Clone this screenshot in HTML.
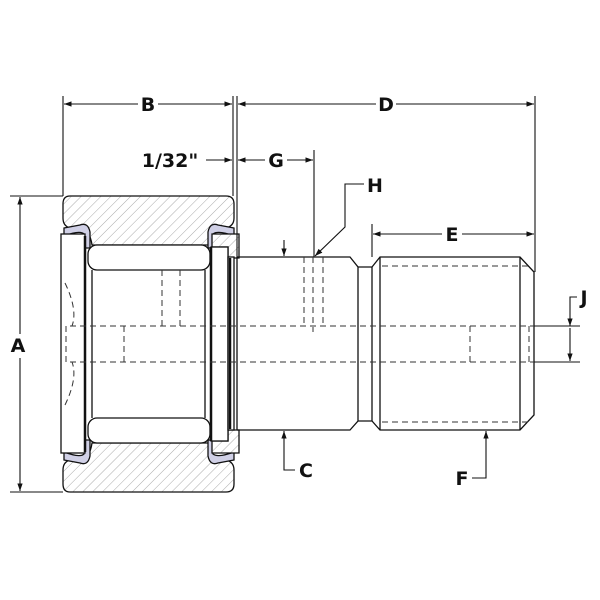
<!DOCTYPE html>
<html><head><meta charset="utf-8"><style>
html,body{margin:0;padding:0;background:#fff}
svg{display:block}
text{font-family:"DejaVu Sans","Liberation Sans",sans-serif;font-weight:bold;fill:#111}
</style></head><body>
<svg width="600" height="600" viewBox="0 0 600 600" xmlns="http://www.w3.org/2000/svg">
<defs>
<pattern id="h" patternUnits="userSpaceOnUse" width="7" height="7" patternTransform="rotate(45)">
<rect width="7" height="7" fill="#fff"/><line x1="0" y1="0" x2="0" y2="7" stroke="#aaa" stroke-width="1"/>
</pattern>
<marker id="a" viewBox="0 0 10 10" refX="10" refY="5" markerWidth="7" markerHeight="7" orient="auto-start-reverse"><path d="M0,1.5 L10,5 L0,8.5z" fill="#111"/></marker>
</defs>
<g stroke="#111" stroke-width="1.3" fill="none">
<path d="M70,196 H226 Q234,196 234,204 V218 Q234,226 226,228 L218,228 Q210,230 208,245 H92 Q90,230 80,228 L70,228 Q63,226 63,218 V204 Q63,196 70,196Z" fill="url(#h)"/>
<path d="M70,492 H226 Q234,492 234,484 V470 Q234,462 226,460 L218,460 Q210,458 208,443 H92 Q90,458 80,460 L70,460 Q63,462 63,470 V484 Q63,492 70,492Z" fill="url(#h)"/>
<path d="M64,228 L80,225 Q88,222 90,232 L90,248 L85,248 L84,234 Q80,230 64,236Z" fill="#d0d0e6"/>
<path d="M234,228 L218,225 Q210,222 208,232 L208,248 L212,248 L213,234 Q218,230 234,236Z" fill="#d0d0e6"/>
<path d="M64,460 L80,463 Q88,466 90,456 L90,440 L85,440 L84,454 Q80,458 64,452Z" fill="#d0d0e6"/>
<path d="M234,460 L218,463 Q210,466 208,456 L208,440 L212,440 L213,454 Q218,458 234,452Z" fill="#d0d0e6"/>
<path d="M212,234 H239 V258 H228 V247 H212Z" fill="url(#h)"/>
<path d="M212,453 H239 V430 H228 V441 H212Z" fill="url(#h)"/>
<rect x="61" y="234" width="24" height="219" fill="#fff"/>
<line x1="85" y1="236" x2="85" y2="452" stroke-width="2.5"/>
<rect x="88" y="245" width="122" height="25" rx="9" fill="#fff"/>
<rect x="88" y="418" width="122" height="25" rx="9" fill="#fff"/>
<line x1="92" y1="270" x2="92" y2="418"/><line x1="205" y1="270" x2="205" y2="418"/>
<rect x="211" y="247" width="17" height="194" fill="#fff"/>
<line x1="211" y1="247" x2="211" y2="441" stroke-width="2.5"/>
<rect x="228" y="257" width="6" height="173" fill="#fff"/>
<line x1="230" y1="258" x2="230" y2="429" stroke-width="2.5"/>
<line x1="237" y1="257" x2="237" y2="430"/>
<path d="M237,257 H350 L358,267 V421 L350,430 H237"/>
<path d="M358,267 H372 L380,257 H520 L534,272 V415 L520,430 H380 L372,421 H358"/>
<line x1="372" y1="267" x2="372" y2="421"/><line x1="380" y1="257" x2="380" y2="430"/><line x1="520" y1="257" x2="520" y2="430"/>
</g>
<g stroke="#333" stroke-width="1" fill="none" stroke-dasharray="6,4">
<line x1="70" y1="326" x2="534" y2="326"/><line x1="70" y1="362" x2="534" y2="362"/>
<line x1="382" y1="266" x2="528" y2="266"/><line x1="382" y1="422" x2="528" y2="422"/>
<line x1="304" y1="257" x2="304" y2="326"/><line x1="323" y1="257" x2="323" y2="326"/>
<line x1="313" y1="257" x2="313" y2="332"/>
<line x1="162" y1="270" x2="162" y2="326"/><line x1="180" y1="270" x2="180" y2="326"/>
<line x1="124" y1="326" x2="124" y2="362"/>
<line x1="470" y1="326" x2="470" y2="362"/><line x1="529" y1="326" x2="529" y2="362"/>
<path d="M65,283 Q78,310 72,326 M65,405 Q78,378 72,362"/>
<line x1="66" y1="326" x2="66" y2="362"/>
</g>
<g stroke="#111" stroke-width="1.1" fill="none">
<line x1="63" y1="96" x2="63" y2="196"/><line x1="233" y1="96" x2="233" y2="196"/>
<line x1="237" y1="96" x2="237" y2="257"/><line x1="535" y1="96" x2="535" y2="272"/>
<line x1="314" y1="150" x2="314" y2="257"/><line x1="372" y1="224" x2="372" y2="257"/>
<line x1="10" y1="196" x2="63" y2="196"/><line x1="10" y1="492" x2="63" y2="492"/>
<line x1="534" y1="326" x2="580" y2="326"/><line x1="534" y1="362" x2="580" y2="362"/>
<line x1="64" y1="104" x2="138" y2="104" marker-start="url(#a)"/><line x1="158" y1="104" x2="232" y2="104" marker-end="url(#a)"/>
<line x1="238" y1="104" x2="376" y2="104" marker-start="url(#a)"/><line x1="396" y1="104" x2="534" y2="104" marker-end="url(#a)"/>
<line x1="206" y1="160" x2="232" y2="160" marker-end="url(#a)"/>
<line x1="238" y1="160" x2="265" y2="160" marker-start="url(#a)"/><line x1="287" y1="160" x2="313" y2="160" marker-end="url(#a)"/>
<line x1="373" y1="234" x2="442" y2="234" marker-start="url(#a)"/><line x1="462" y1="234" x2="534" y2="234" marker-end="url(#a)"/>
<line x1="20" y1="197" x2="20" y2="334" marker-start="url(#a)"/><line x1="20" y1="358" x2="20" y2="491" marker-end="url(#a)"/>
<path d="M577,297 H570 V326" marker-end="url(#a)"/>
<line x1="570" y1="328" x2="570" y2="361" marker-end="url(#a)"/>
<path d="M364,184 H345 V227 L315,256" marker-end="url(#a)"/>
<line x1="284" y1="240" x2="284" y2="256" marker-end="url(#a)"/>
<path d="M295,470 H284 V431" marker-end="url(#a)"/>
<path d="M472,478 H486 V431" marker-end="url(#a)"/>
</g>
<g font-size="19">
<text x="148" y="111" text-anchor="middle">B</text>
<text x="386" y="111" text-anchor="middle">D</text>
<text x="170" y="167" text-anchor="middle">1/32"</text>
<text x="276" y="167" text-anchor="middle">G</text>
<text x="375" y="192" text-anchor="middle">H</text>
<text x="452" y="241" text-anchor="middle">E</text>
<text x="584" y="304" text-anchor="middle">J</text>
<text x="18" y="352" text-anchor="middle">A</text>
<text x="306" y="477" text-anchor="middle">C</text>
<text x="462" y="485" text-anchor="middle">F</text>
</g>
</svg>
</body></html>
